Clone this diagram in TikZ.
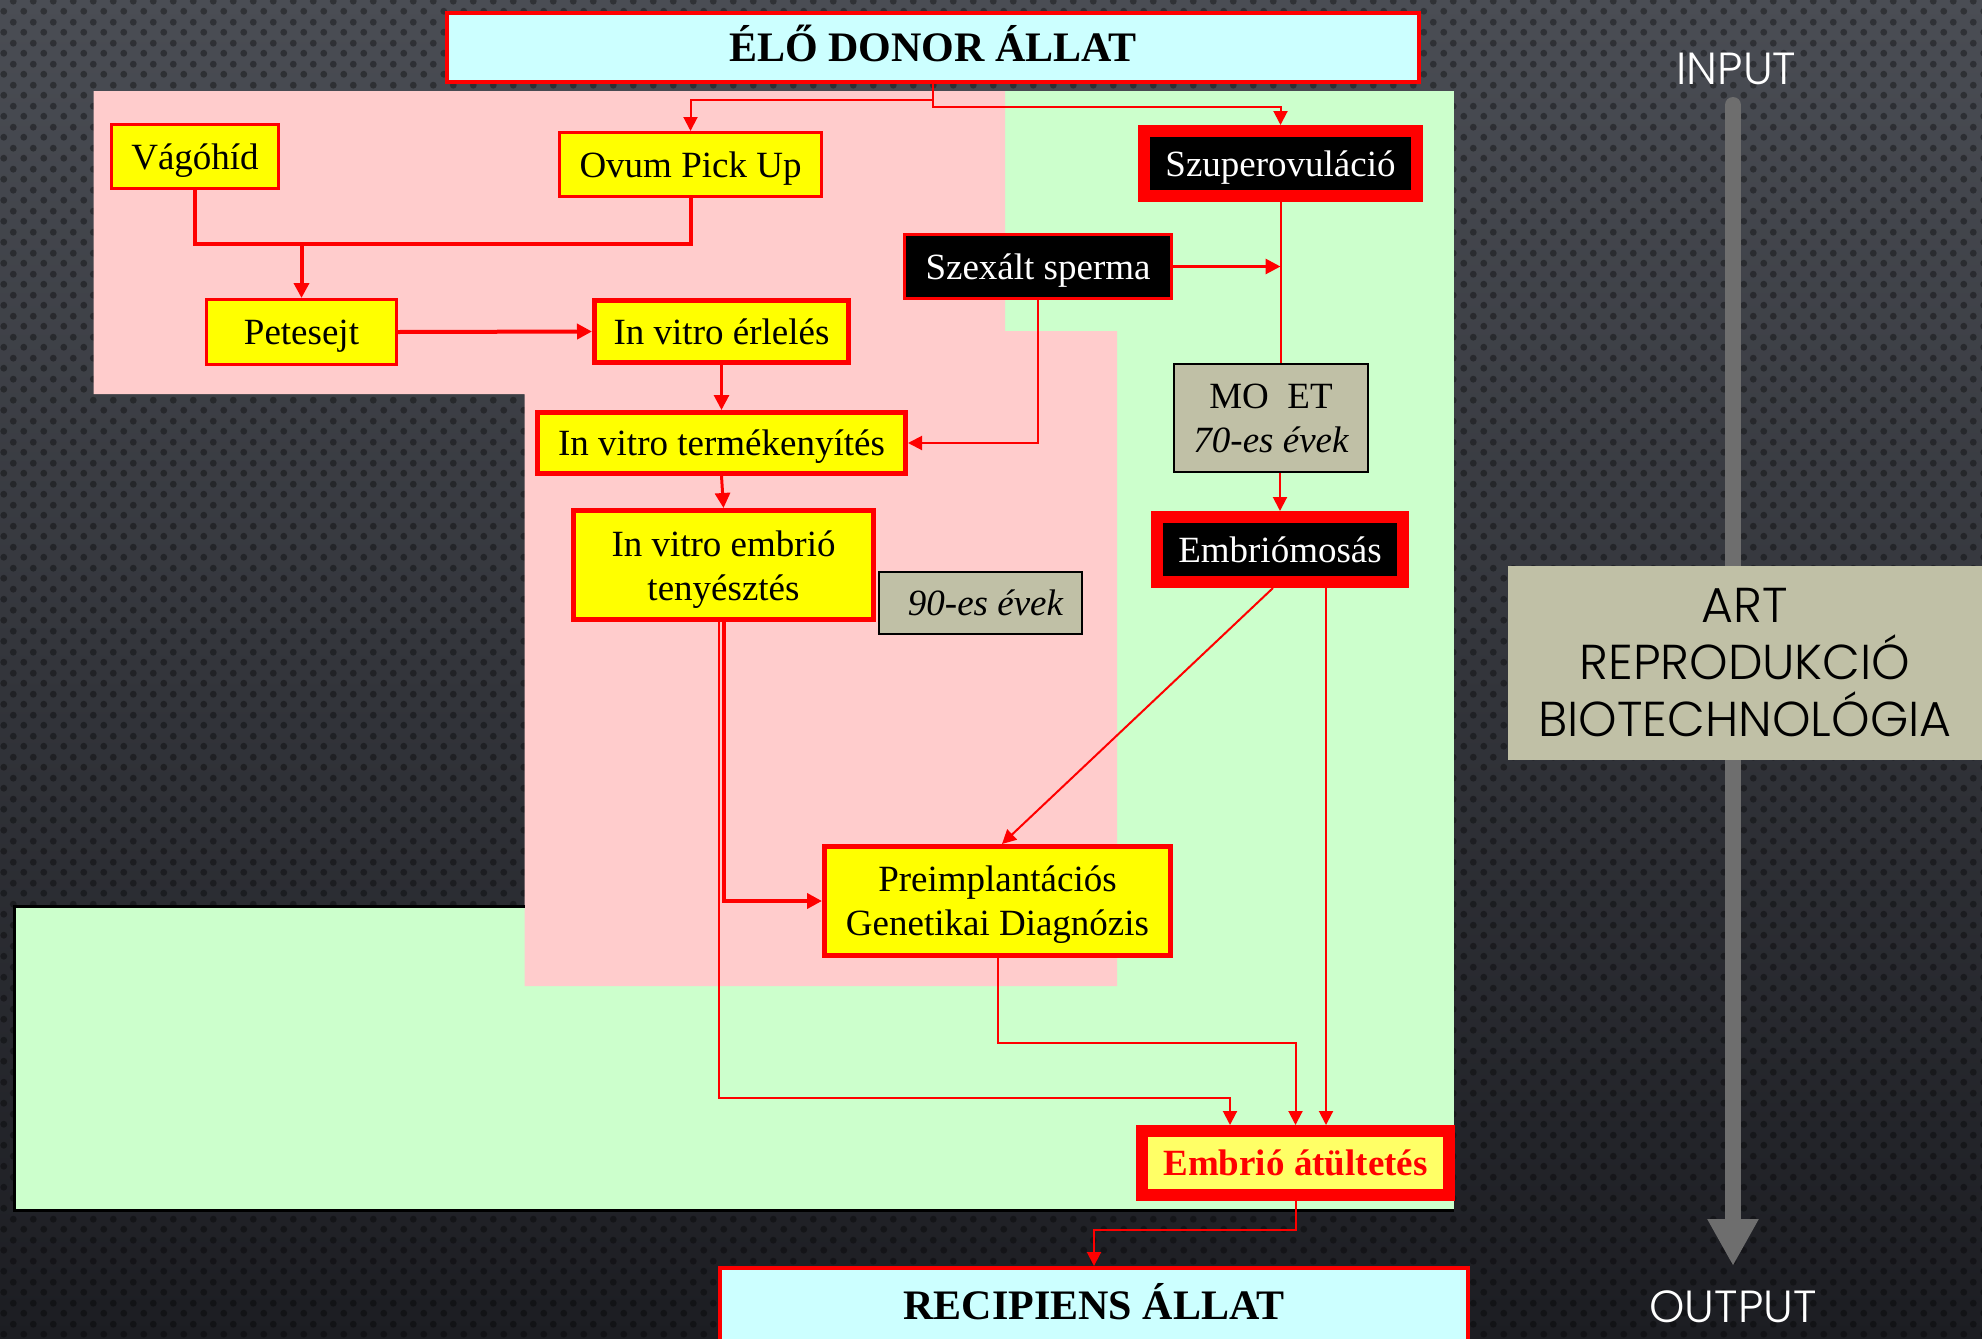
\documentclass[tikz,border=0pt]{standalone}
\usepackage{fontspec}
\setmainfont{Liberation Serif}
\newfontfamily\gothic{Poppins}[UprightFont=* Light]
\usetikzlibrary{arrows.meta,patterns.meta,calc}
\definecolor{cCyan}{HTML}{CCFFFF}
\definecolor{cYel}{HTML}{FFFF00}
\definecolor{cPink}{HTML}{FFCCCC}
\definecolor{cGreen}{HTML}{CCFFCC}
\definecolor{cRed}{HTML}{FF0000}
\definecolor{cGray}{RGB}{192,192,166}
\definecolor{cLY}{HTML}{FFFF66}
\definecolor{cShaft}{HTML}{6E6E6E}
\definecolor{bgtop}{RGB}{74,77,84}
\definecolor{bgbot}{RGB}{28,29,34}
\pgfdeclarepattern{
  name=bgdots,
  type=uncolored,
  bottom left={\pgfpoint{0pt}{0pt}},
  top right={\pgfpoint{20pt}{21pt}},
  tile size={\pgfpoint{20pt}{21pt}},
  code={
    \pgfpathcircle{\pgfpoint{5pt}{5pt}}{3.6pt}
    \pgfpathcircle{\pgfpoint{15pt}{15.5pt}}{3.6pt}
    \pgfusepath{fill}
  }
}
\begin{document}
\begin{tikzpicture}[x=1pt,y=-1pt,
  nbase/.style={inner sep=0pt, align=center, font=\fontsize{37}{44}\selectfont},
  oneline/.style={text height=33.3pt, text depth=8.1pt},
  ythin/.style={nbase, fill=cYel, draw=cRed, line width=3pt},
  ythick/.style={nbase, fill=cYel, draw=cRed, line width=5pt},
  blkthin/.style={nbase, fill=black, draw=cRed, line width=3pt, text=white},
  blkthick/.style={nbase, fill=black, draw=cRed, line width=12pt, text=white},
  grynode/.style={nbase, fill=cGray, draw=black, line width=2pt},
  endnode/.style={nbase, fill=cCyan, draw=cRed, line width=4pt, font=\bfseries\fontsize{42}{50}\selectfont,
    text height=37.8pt, text depth=9.2pt},
  cnline/.style={draw=cRed, line width=2pt},
  cn/.style={draw=cRed, line width=2pt, -{Triangle[width=14pt,length=14pt]}},
  cnthick/.style={draw=cRed, line width=4pt, -{Triangle[width=15pt,length=15pt]}},
  gothtext/.style={text=white, font=\gothic\fontsize{45}{50}\selectfont},
]
\useasboundingbox (0,0) rectangle (1982,1339);
% background
\shade[top color=bgtop, bottom color=bgbot] (0,0) rectangle (1982,1339);
\fill[pattern=bgdots, pattern color=black, opacity=0.35] (0,0) rectangle (1982,1339);
% coloured regions
\fill[cGreen] (14,906) rectangle (1454,1210);
\fill[cGreen] (1005,91) rectangle (1454,1210);
\fill[cPink] (93.5,91) -- (1005,91) -- (1005,331) -- (1117,331) -- (1117,986)
  -- (524.6,986) -- (524.6,394) -- (93.5,394) -- cycle;
\draw[black, line width=3pt] (524.6,906) -- (14,906) -- (14,1210) -- (1454,1210);

% right side
\node[anchor=base, gothtext] (inp) at (1736.5,84) {INPUT};
\node[anchor=base, gothtext] (outp) at (1733,1322) {OUTPUT};
\coordinate (shtop) at (1733,105);
\coordinate (shend) at (1733,1266);
\draw[line width=16pt, draw=cShaft, line cap=round, -{Triangle[width=48pt,length=47pt]}] (shtop) -- (shend);
\node[fill=cGray, inner sep=0pt, align=center, minimum width=474pt, minimum height=194pt,
  font=\gothic\fontsize{49}{57}\selectfont] (art) at (1745,663) {ART\\REPRODUKCIÓ\\BIOTECHNOLÓGIA};

% nodes
\node[endnode, minimum width=972pt, minimum height=69pt] (donor) at (933,47.5) {ÉLŐ DONOR ÁLLAT};
\node[ythin, oneline, minimum width=167pt, minimum height=64pt] (vago) at (195,156.5) {Vágóhíd};
\node[ythin, oneline, minimum width=262pt, minimum height=64pt] (ovum) at (690.5,164.5) {Ovum Pick Up};
\node[ythin, oneline, minimum width=190pt, minimum height=65pt] (pete) at (301.5,332) {Petesejt};
\node[ythick, oneline, minimum width=254pt, minimum height=62pt] (erl) at (721.5,331.5) {In vitro érlelés};
\node[blkthin, oneline, minimum width=267pt, minimum height=64pt] (szex) at (1038,266.5) {Szexált sperma};
\node[blkthick, oneline, minimum width=273pt, minimum height=65pt] (szup) at (1280.5,163.5) {Szuperovuláció};
\node[ythick, oneline, minimum width=368pt, minimum height=61pt] (term) at (721.5,443) {In vitro termékenyítés};
\node[ythick, minimum width=300pt, minimum height=109pt] (teny) at (723.5,565) {\rule{0pt}{34pt}In vitro embrió\\tenyésztés};
\node[grynode, oneline, minimum width=203pt, minimum height=62pt] (ev90) at (980.5,603) {\itshape\hspace*{10pt}90-es évek};
\node[grynode, minimum width=194pt, minimum height=108pt] (moet) at (1271,418) {MO\hspace{0.5em}ET\\{\itshape 70-es évek}};
\node[blkthick, oneline, minimum width=246pt, minimum height=65pt] (emos) at (1280,549.5) {Embriómosás};
\node[ythick, minimum width=346pt, minimum height=109pt] (pgd) at (997.5,901) {\rule{0pt}{32pt}Preimplantációs\\Genetikai Diagnózis};
\node[nbase, oneline, fill=cLY, draw=cRed, line width=12pt, text=cRed, font=\bfseries\fontsize{37}{44}\selectfont,
  minimum width=307pt, minimum height=64pt] (atul) at (1295.5,1163) {Embrió átültetés};
\node[endnode, minimum width=748pt, minimum height=75pt] (reci) at (1094,1305.5) {RECIPIENS ÁLLAT};

% connectors
\draw[cn] (donor.south) -- ++(0,16) -| (ovum.north);
\draw[cn] (donor.south) -- ++(0,23) -| (szup.north);
\path (vago.south) ++(0,54) coordinate (vj);
\draw[cnline, line width=4pt] (vago.south) -- (vj) -| (ovum.south);
\draw[cnthick] (vj -| pete.north) -- (pete.north);
\draw[cnthick] (pete.east) -- (erl.west);
\draw[cnthick, line width=3pt] (erl.south) -- (term.north);
\draw[cnthick, line width=3pt] (szex.east) -- (szex.east -| szup.south);
\draw[cn] (szex.south) |- (term.east);
\draw[cnline] (szup.south) -- (szup.south |- moet.north);
\draw[cn] (moet.south -| emos.north) -- (emos.north);
\draw[cnthick, line width=3pt] (term.south) -- (teny.north);
\draw[cnthick] (teny.south) |- (pgd.west);
\draw[cn] ([xshift=-5pt]teny.south) -- ++(0,476) -| ([xshift=-65.5pt]atul.north);
\draw[cn] (pgd.south) -- ++(0,85) -| (atul.north);
\draw[cn] ([xshift=-7pt]emos.south) -- ([xshift=4.5pt]pgd.north);
\draw[cn] ([xshift=46pt]emos.south) -- ([xshift=46pt]emos.south |- atul.north);
\draw[cn] (atul.south) -- ++(0,29) -| (reci.north);
\end{tikzpicture}
\end{document}
